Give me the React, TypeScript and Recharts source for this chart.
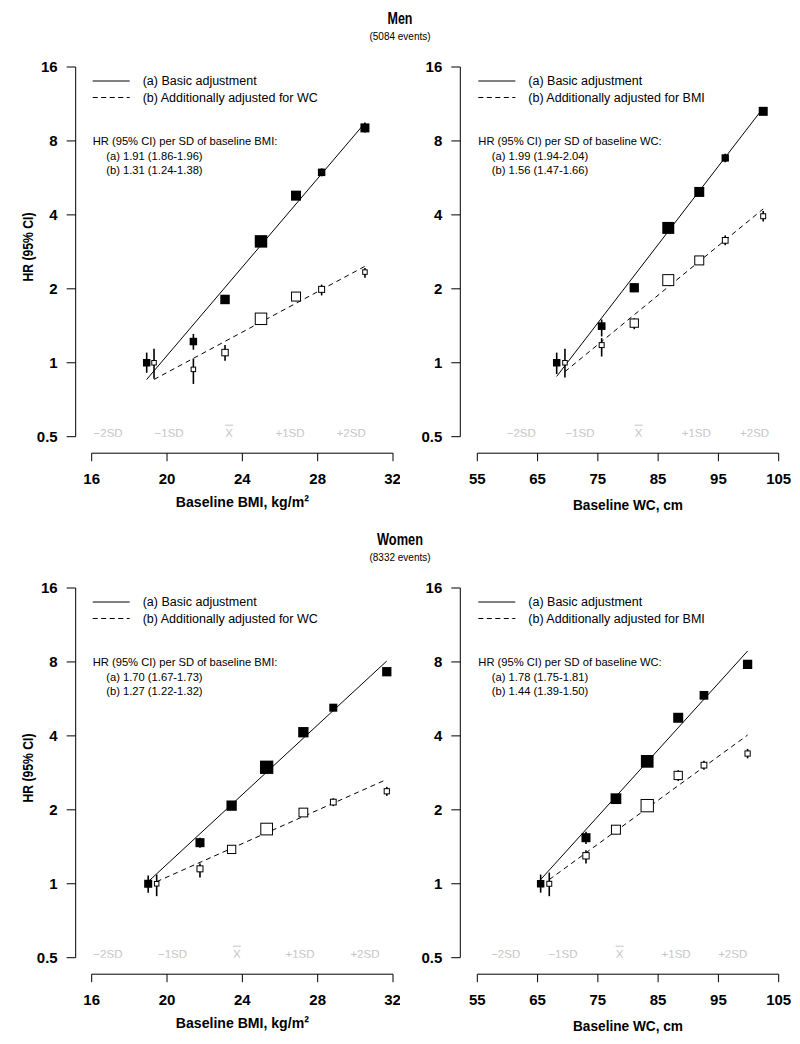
import React from 'react';
import { ComposedChart, Scatter, Line, XAxis, YAxis, ErrorBar } from 'recharts';

// ---------------- data ----------------
const hrTicks = [0.5, 1, 2, 4, 8, 16];
const bmiTicks = [16, 20, 24, 28, 32];
const wcTicks = [55, 65, 75, 85, 95, 105];
const sdLabels = ['\u22122SD', '\u22121SD', 'X', '+1SD', '+2SD'];

// Men, BMI
const menBmiXa = [18.92, 21.4, 23.08, 24.99, 26.85, 28.21, 30.51];
const menBmiXb = [19.31, 21.4, 23.08, 24.99, 26.85, 28.21, 30.51];
const menBmiHRa = [1.0, 1.22, 1.81, 3.12, 4.79, 5.96, 9.04];
const menBmiLoA = [0.91, 1.13, 1.74, 3.03, 4.63, 5.74, 8.65];
const menBmiHiA = [1.1, 1.31, 1.88, 3.21, 4.95, 6.19, 9.5];
const menBmiHRb = [1.0, 0.94, 1.1, 1.51, 1.86, 1.99, 2.34];
const menBmiLoB = [0.86, 0.82, 1.02, 1.45, 1.78, 1.88, 2.22];
const menBmiHiB = [1.14, 1.04, 1.18, 1.57, 1.94, 2.08, 2.43];
const menBmiWa = [0.33, 0.33, 0.53, 0.92, 0.59, 0.33, 0.48];
const menBmiWb = [0.18, 0.18, 0.33, 0.92, 0.59, 0.29, 0.18];
const menBmiFitX = [18.92, 30.51];
const menBmiFitXb = [19.31, 30.51];
const menBmiFitA = [0.855, 9.47];
const menBmiFitB = [0.855, 2.47];
const menBmiSd = [16.87, 20.11, 23.3, 26.53, 29.78];

// Men, WC
const menWcXa = [68.17, 75.63, 81.04, 86.68, 91.82, 96.13, 102.43];
const menWcXb = [69.54, 75.63, 81.04, 86.68, 91.82, 96.13, 102.43];
const menWcHRa = [1.0, 1.41, 2.02, 3.54, 4.96, 6.82, 10.56];
const menWcLoA = [0.9, 1.28, 1.94, 3.43, 4.8, 6.55, 10.2];
const menWcHiA = [1.1, 1.5, 2.1, 3.65, 5.12, 7.1, 10.9];
const menWcHRb = [1.0, 1.18, 1.45, 2.17, 2.61, 3.15, 3.95];
const menWcLoB = [0.87, 1.06, 1.37, 2.08, 2.5, 3.01, 3.76];
const menWcHiB = [1.14, 1.26, 1.52, 2.26, 2.72, 3.3, 4.15];
const menWcWa = [0.33, 0.35, 0.51, 0.85, 0.59, 0.32, 0.48];
const menWcWb = [0.18, 0.21, 0.51, 0.85, 0.59, 0.27, 0.21];
const menWcFitX = [68.17, 102.43];
const menWcFitXb = [69.54, 102.43];
const menWcFitA = [0.88, 10.9];
const menWcFitB = [0.92, 4.23];
const menWcSd = [62.3, 72.03, 81.77, 91.32, 101.0];

// Women, BMI
const womenBmiXa = [19.0, 21.75, 23.43, 25.29, 27.24, 28.83, 31.67];
const womenBmiXb = [19.45, 21.75, 23.43, 25.29, 27.24, 28.83, 31.67];
const womenBmiHRa = [1.0, 1.47, 2.08, 2.98, 4.14, 5.21, 7.3];
const womenBmiLoA = [0.92, 1.4, 2.02, 2.91, 4.03, 5.04, 7.02];
const womenBmiHiA = [1.08, 1.54, 2.14, 3.05, 4.25, 5.38, 7.58];
const womenBmiHRb = [1.0, 1.15, 1.38, 1.67, 1.95, 2.15, 2.38];
const womenBmiLoB = [0.89, 1.06, 1.33, 1.62, 1.89, 2.07, 2.28];
const womenBmiHiB = [1.09, 1.21, 1.43, 1.72, 2.01, 2.23, 2.48];
const womenBmiWa = [0.38, 0.48, 0.63, 1.05, 0.63, 0.38, 0.51];
const womenBmiWb = [0.18, 0.29, 0.51, 0.95, 0.56, 0.27, 0.23];
const womenBmiFitX = [19.0, 31.67];
const womenBmiFitXb = [19.45, 31.67];
const womenBmiFitA = [1.02, 8.07];
const womenBmiFitB = [1.02, 2.66];
const womenBmiSd = [16.86, 20.29, 23.71, 27.06, 30.51];

// Women, WC
const womenWcXa = [65.51, 73.03, 78.0, 83.19, 88.33, 92.6, 99.84];
const womenWcXb = [66.94, 73.03, 78.0, 83.19, 88.33, 92.6, 99.84];
const womenWcHRa = [1.0, 1.54, 2.22, 3.15, 4.74, 5.85, 7.82];
const womenWcLoA = [0.92, 1.45, 2.15, 3.06, 4.58, 5.62, 7.52];
const womenWcHiA = [1.09, 1.63, 2.29, 3.24, 4.9, 6.08, 8.13];
const womenWcHRb = [1.0, 1.3, 1.66, 2.08, 2.76, 3.04, 3.39];
const womenWcLoB = [0.89, 1.21, 1.59, 2.0, 2.62, 2.91, 3.24];
const womenWcHiB = [1.11, 1.37, 1.73, 2.16, 2.9, 3.17, 3.54];
const womenWcWa = [0.33, 0.48, 0.68, 0.95, 0.59, 0.45, 0.51];
const womenWcWb = [0.21, 0.32, 0.59, 1.05, 0.51, 0.27, 0.23];
const womenWcFitX = [65.51, 99.84];
const womenWcFitXb = [66.94, 99.84];
const womenWcFitA = [1.04, 8.86];
const womenWcFitB = [1.04, 4.03];
const womenWcSd = [59.71, 69.21, 78.61, 87.98, 97.37];

// texts
const menTitle = 'Men';
const menEvents = '(5084 events)';
const womenTitle = 'Women';
const womenEvents = '(8332 events)';
const legendA = '(a) Basic adjustment';
const legendBbmi = '(b) Additionally adjusted for WC';
const legendBwc = '(b) Additionally adjusted for BMI';
const statHeadBmi = 'HR (95% CI) per SD of baseline BMI:';
const statHeadWc = 'HR (95% CI) per SD of baseline WC:';
const menBmiStats = ['(a) 1.91 (1.86-1.96)', '(b) 1.31 (1.24-1.38)'];
const menWcStats = ['(a) 1.99 (1.94-2.04)', '(b) 1.56 (1.47-1.66)'];
const womenBmiStats = ['(a) 1.70 (1.67-1.73)', '(b) 1.27 (1.22-1.32)'];
const womenWcStats = ['(a) 1.78 (1.75-1.81)', '(b) 1.44 (1.39-1.50)'];
const bmiAxisTitle = 'Baseline BMI, kg/m\u00B2';
const wcAxisTitle = 'Baseline WC, cm';
const yAxisTitle = 'HR (95% CI)';

// ---------------- helpers ----------------
const pts = (xs: number[], hr: number[], lo: number[], hi: number[], w: number[]) =>
  xs.map((x, i) => ({ x, y: hr[i], err: [hr[i] - lo[i], hi[i] - hr[i]], w: w[i] }));
const seg = (xs: number[], ys: number[]) => xs.map((x, i) => ({ x, y: ys[i] }));
const sdPts = (xs: number[]) => xs.map((x, i) => ({ x, y: 0.5, label: sdLabels[i] }));

const NARROW = "'Liberation Sans Narrow','Arial Narrow','Liberation Sans',Arial,sans-serif";
const REG = "'Liberation Sans',Arial,Helvetica,sans-serif";
const BOX = 13;

const FilledSquare = (p: any) => {
  const s = BOX * Math.sqrt(p.payload.w);
  return <rect x={p.cx - s / 2} y={p.cy - s / 2} width={s} height={s} fill="#000" />;
};
const OpenSquare = (p: any) => {
  const s = BOX * Math.sqrt(p.payload.w) - 1;
  return (
    <rect x={p.cx - s / 2} y={p.cy - s / 2} width={s} height={s} fill="#fff" stroke="#000" strokeWidth={1} />
  );
};
const SdLabel = (p: any) => {
  const isMean = p.payload.label === 'X';
  return (
    <g>
      <text x={p.cx} y={p.cy} textAnchor="middle" fontSize={11.5} fontFamily={REG} fill="#c4c4c4">
        {p.payload.label}
      </text>
      {isMean && <line x1={p.cx - 4} x2={p.cx + 4} y1={p.cy - 11.5} y2={p.cy - 11.5} stroke="#c4c4c4" strokeWidth={1} />}
    </g>
  );
};

type PanelProps = {
  left: number;
  top: number;
  plotLeft: number;
  plotRight: number;
  yGap: number;
  xDomain: [number, number];
  xTicks: number[];
  a: any[];
  b: any[];
  fitA: any[];
  fitB: any[];
  sd: any[];
};

const PLOT_TOP = 67;
const PLOT_BOTTOM = 436.7;
const X_GAP = 16.5;
const X_AXIS_H = 40;
const Y_AXIS_W = 60;
const CW = 400;
const CH = 520;

function Panel(props: PanelProps) {
  const { left, top, plotLeft, plotRight, yGap, xDomain, xTicks, a, b, fitA, fitB, sd } = props;
  const margin = {
    top: PLOT_TOP,
    bottom: CH - PLOT_BOTTOM - X_GAP - X_AXIS_H,
    left: plotLeft - left - yGap - Y_AXIS_W,
    right: left + CW - plotRight,
  };
  const tickStyle = { fill: '#000', fontSize: 15, fontWeight: 700, fontFamily: NARROW };
  return (
    <div style={{ position: 'absolute', left, top, width: CW, height: CH }}>
      <ComposedChart width={CW} height={CH} margin={margin}>
        <XAxis xAxisId="gap" type="number" domain={[0, 1]} height={X_GAP} tick={false} axisLine={false} tickLine={false} />
        <XAxis
          xAxisId="main"
          type="number"
          dataKey="x"
          domain={xDomain}
          ticks={xTicks}
          allowDataOverflow
          height={X_AXIS_H}
          tickSize={8}
          tickMargin={12}
          tick={tickStyle}
          axisLine={{ stroke: '#000', strokeWidth: 1 }}
          tickLine={{ stroke: '#000', strokeWidth: 1 }}
        />
        <YAxis yAxisId="gap" type="number" domain={[0, 1]} width={yGap} tick={false} axisLine={false} tickLine={false} />
        <YAxis
          yAxisId="main"
          type="number"
          dataKey="y"
          scale="log"
          domain={[0.5, 16]}
          ticks={hrTicks}
          allowDataOverflow
          width={Y_AXIS_W}
          tickSize={9}
          tickMargin={9}
          tick={tickStyle}
          axisLine={{ stroke: '#000', strokeWidth: 1 }}
          tickLine={{ stroke: '#000', strokeWidth: 1 }}
        />
        <Line xAxisId="main" yAxisId="main" data={fitA} dataKey="y" type="linear" stroke="#000" strokeWidth={1} dot={false} isAnimationActive={false} />
        <Line xAxisId="main" yAxisId="main" data={fitB} dataKey="y" type="linear" stroke="#000" strokeWidth={1} strokeDasharray="5 4" dot={false} isAnimationActive={false} />
        <Scatter xAxisId="main" yAxisId="main" data={sd} dataKey="y" shape={SdLabel} isAnimationActive={false} />
        <Scatter xAxisId="main" yAxisId="main" data={a} dataKey="y" shape={FilledSquare} isAnimationActive={false}>
          <ErrorBar dataKey="err" direction="y" width={0} stroke="#000" strokeWidth={1.6} />
        </Scatter>
        <Scatter xAxisId="main" yAxisId="main" data={b} dataKey="y" shape={OpenSquare} isAnimationActive={false}>
          <ErrorBar dataKey="err" direction="y" width={0} stroke="#000" strokeWidth={1.6} />
        </Scatter>
      </ComposedChart>
    </div>
  );
}

function LegendBlock({ x, dy, bLabel, head, stats }: { x: number; dy: number; bLabel: string; head: string; stats: string[] }) {
  return (
    <g fontFamily={REG} fill="#000">
      <line x1={x + 1} x2={x + 38} y1={81 + dy} y2={81 + dy} stroke="#000" strokeWidth={1} />
      <line x1={x + 1} x2={x + 38} y1={97.5 + dy} y2={97.5 + dy} stroke="#000" strokeWidth={1} strokeDasharray="5 3.5" />
      <text x={x + 51} y={85 + dy} fontSize={12.5}>{legendA}</text>
      <text x={x + 51} y={101.5 + dy} fontSize={12.5}>{bLabel}</text>
      <text x={x + 1} y={145 + dy} fontSize={11.2}>{head}</text>
      <text x={x + 14.5} y={159.5 + dy} fontSize={11.2}>{stats[0]}</text>
      <text x={x + 14.5} y={174 + dy} fontSize={11.2}>{stats[1]}</text>
    </g>
  );
}

export default function App() {
  const L1 = 91.7, R1 = 393, L2 = 477.3, R2 = 778.7;
  const OFF = 521;
  return (
    <div style={{ position: 'absolute', left: 0, top: 0, width: 800, height: 1044, background: '#fff' }}>
      <Panel left={0} top={0} plotLeft={L1} plotRight={R1} yGap={16} xDomain={[16, 32]} xTicks={bmiTicks}
        a={pts(menBmiXa, menBmiHRa, menBmiLoA, menBmiHiA, menBmiWa)}
        b={pts(menBmiXb, menBmiHRb, menBmiLoB, menBmiHiB, menBmiWb)}
        fitA={seg(menBmiFitX, menBmiFitA)} fitB={seg(menBmiFitXb, menBmiFitB)} sd={sdPts(menBmiSd)} />
      <Panel left={400} top={0} plotLeft={L2} plotRight={R2} yGap={17} xDomain={[55, 105]} xTicks={wcTicks}
        a={pts(menWcXa, menWcHRa, menWcLoA, menWcHiA, menWcWa)}
        b={pts(menWcXb, menWcHRb, menWcLoB, menWcHiB, menWcWb)}
        fitA={seg(menWcFitX, menWcFitA)} fitB={seg(menWcFitXb, menWcFitB)} sd={sdPts(menWcSd)} />
      <Panel left={0} top={OFF} plotLeft={L1} plotRight={R1} yGap={16} xDomain={[16, 32]} xTicks={bmiTicks}
        a={pts(womenBmiXa, womenBmiHRa, womenBmiLoA, womenBmiHiA, womenBmiWa)}
        b={pts(womenBmiXb, womenBmiHRb, womenBmiLoB, womenBmiHiB, womenBmiWb)}
        fitA={seg(womenBmiFitX, womenBmiFitA)} fitB={seg(womenBmiFitXb, womenBmiFitB)} sd={sdPts(womenBmiSd)} />
      <Panel left={400} top={OFF} plotLeft={L2} plotRight={R2} yGap={17} xDomain={[55, 105]} xTicks={wcTicks}
        a={pts(womenWcXa, womenWcHRa, womenWcLoA, womenWcHiA, womenWcWa)}
        b={pts(womenWcXb, womenWcHRb, womenWcLoB, womenWcHiB, womenWcWb)}
        fitA={seg(womenWcFitX, womenWcFitA)} fitB={seg(womenWcFitXb, womenWcFitB)} sd={sdPts(womenWcSd)} />

      <svg width={800} height={1044} style={{ position: 'absolute', left: 0, top: 0, pointerEvents: 'none' }}>
        <text x={400} y={24} textAnchor="middle" fontSize={17} fontWeight={700} fontFamily={NARROW} textLength={25} lengthAdjust="spacingAndGlyphs">{menTitle}</text>
        <text x={400} y={39.5} textAnchor="middle" fontSize={10} fontFamily={NARROW}>{menEvents}</text>
        <text x={400} y={545} textAnchor="middle" fontSize={17} fontWeight={700} fontFamily={NARROW} textLength={46} lengthAdjust="spacingAndGlyphs">{womenTitle}</text>
        <text x={400} y={560.5} textAnchor="middle" fontSize={10} fontFamily={NARROW}>{womenEvents}</text>

        {[0, OFF].map((dy) => (
          <g key={dy}>
            <text transform={`translate(33,${247 + dy}) rotate(-90)`} textAnchor="middle" fontSize={15.5} fontWeight={700} fontFamily={NARROW} textLength={69} lengthAdjust="spacingAndGlyphs">{yAxisTitle}</text>
            <text x={(L1 + R1) / 2} y={506.7 + dy} textAnchor="middle" fontSize={15.5} fontWeight={700} fontFamily={NARROW} textLength={133} lengthAdjust="spacingAndGlyphs">{bmiAxisTitle}</text>
            <text x={(L2 + R2) / 2} y={510 + dy} textAnchor="middle" fontSize={15.5} fontWeight={700} fontFamily={NARROW} textLength={110} lengthAdjust="spacingAndGlyphs">{wcAxisTitle}</text>
          </g>
        ))}

        <LegendBlock x={L1} dy={0} bLabel={legendBbmi} head={statHeadBmi} stats={menBmiStats} />
        <LegendBlock x={L2} dy={0} bLabel={legendBwc} head={statHeadWc} stats={menWcStats} />
        <LegendBlock x={L1} dy={OFF} bLabel={legendBbmi} head={statHeadBmi} stats={womenBmiStats} />
        <LegendBlock x={L2} dy={OFF} bLabel={legendBwc} head={statHeadWc} stats={womenWcStats} />
      </svg>
    </div>
  );
}
